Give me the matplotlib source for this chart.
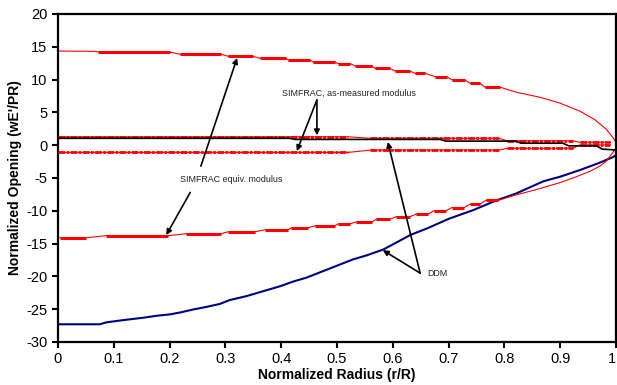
import matplotlib
matplotlib.use("Agg")
import matplotlib.pyplot as plt

plt.rcParams["font.family"] = ["Liberation Sans", "DejaVu Sans"]
plt.rcParams["axes.unicode_minus"] = False

# SIMFRAC, equivalent modulus - upper surface (staircase: start, end, level)
top_start = [0.072, 0.219, 0.305, 0.362, 0.412, 0.457, 0.502, 0.532, 0.568, 0.604, 0.640, 0.676, 0.706, 0.738, 0.765]
top_end   = [0.201, 0.292, 0.349, 0.409, 0.452, 0.496, 0.523, 0.563, 0.595, 0.631, 0.658, 0.697, 0.729, 0.756, 0.792]
top_level = [14.2, 13.85, 13.55, 13.25, 13.0, 12.65, 12.45, 12.1, 11.7, 11.3, 10.95, 10.45, 9.95, 9.45, 8.85]
top_lead_r = [0.0, 0.066]
top_lead_w = [14.35, 14.3]
top_tail_r = [0.82, 0.864, 0.90, 0.935, 0.962, 0.983, 0.995, 1.0]
top_tail_w = [8.1, 7.3, 6.4, 5.2, 3.9, 2.4, 1.1, 0.4]

# SIMFRAC, equivalent modulus - lower surface
bot_start = [0.003, 0.086, 0.230, 0.305, 0.371, 0.418, 0.460, 0.502, 0.534, 0.570, 0.606, 0.642, 0.674, 0.706, 0.738, 0.767]
bot_end   = [0.051, 0.197, 0.292, 0.353, 0.412, 0.448, 0.496, 0.523, 0.563, 0.595, 0.631, 0.663, 0.695, 0.728, 0.756, 0.789]
bot_level = [-14.1, -13.8, -13.5, -13.2, -12.9, -12.6, -12.3, -12.0, -11.7, -11.3, -10.9, -10.5, -10.0, -9.5, -9.0, -8.4]
bot_lead_r = [0.0]
bot_lead_w = [-14.1]
bot_tail_r = [0.82, 0.86, 0.90, 0.923, 0.953, 0.971, 0.983, 0.99, 0.996, 1.0]
bot_tail_w = [-7.6, -6.7, -5.7, -5.0, -4.0, -3.2, -2.4, -1.6, -0.9, -0.5]

# SIMFRAC, as-measured modulus
mid_up_start = [0.0, 0.56, 0.805, 0.935]
mid_up_end   = [0.52, 0.79, 0.923, 0.99]
mid_up_level = [1.28, 1.05, 0.67, 0.44]
mid_lo_start = [0.0, 0.56, 0.805, 0.935]
mid_lo_end   = [0.52, 0.79, 0.923, 0.99]
mid_lo_level = [-1.1, -0.75, -0.47, 0.03]

# DDM
ddm_top_r = [0.0, 0.415, 0.425, 0.685, 0.695, 0.82, 0.83, 0.905, 0.915, 0.965, 0.975, 0.998]
ddm_top_w = [1.05, 1.05, 0.88, 0.88, 0.62, 0.62, 0.3, 0.3, -0.1, -0.1, -0.6, -0.72]
ddm_bot_r = [0.0, 0.075, 0.087, 0.123, 0.153, 0.177, 0.200, 0.219, 0.242, 0.266, 0.290, 0.308,
             0.338, 0.362, 0.398, 0.421, 0.445, 0.466, 0.502, 0.529, 0.553, 0.583, 0.603, 0.631,
             0.661, 0.701, 0.744, 0.786, 0.820, 0.870, 0.900, 0.935, 0.970, 0.995, 1.0]
ddm_bot_w = [-27.3, -27.3, -27.0, -26.6, -26.3, -26.0, -25.8, -25.5, -25.05, -24.65, -24.2, -23.6,
             -23.0, -22.4, -21.5, -20.8, -20.2, -19.5, -18.3, -17.4, -16.8, -15.9, -15.0, -13.7,
             -12.7, -11.2, -9.9, -8.4, -7.4, -5.5, -4.8, -3.8, -2.7, -1.8, -1.5]

x_ticks = [0, 0.1, 0.2, 0.3, 0.4, 0.5, 0.6, 0.7, 0.8, 0.9, 1]
x_labels = ["0", "0.1", "0.2", "0.3", "0.4", "0.5", "0.6", "0.7", "0.8", "0.9", "1"]
y_ticks = [-30, -25, -20, -15, -10, -5, 0, 5, 10, 15, 20]

RED = "#ff0000"
NAVY = "#000080"


def staircase(ax, starts, ends, levels, lead_r, lead_w, tail_r, tail_w, ls, lw):
    r = list(lead_r)
    w = list(lead_w)
    for s, e, lv in zip(starts, ends, levels):
        r += [s, e]
        w += [lv, lv]
    r += list(tail_r)
    w += list(tail_w)
    ax.plot(r, w, color=RED, lw=0.8, zorder=2)
    ax.hlines(levels, starts, ends, colors=RED, lw=lw, linestyles=ls, zorder=3)


fig = plt.figure(figsize=(6.17, 3.85), dpi=100)
ax = fig.add_axes([0.094, 0.1117, 0.9044, 0.852])

ax.plot(ddm_bot_r, ddm_bot_w, color=NAVY, lw=1.5, zorder=1)
staircase(ax, top_start, top_end, top_level, top_lead_r, top_lead_w, top_tail_r, top_tail_w, "solid", 2.2)
staircase(ax, bot_start, bot_end, bot_level, bot_lead_r, bot_lead_w, bot_tail_r, bot_tail_w, "solid", 2.2)
dashdot = (0, (2.4, 0.5, 1.0, 0.5))
staircase(ax, mid_up_start, mid_up_end, mid_up_level, [], [], [], [], dashdot, 2.0)
staircase(ax, mid_lo_start, mid_lo_end, mid_lo_level, [], [], [], [], dashdot, 2.0)
ax.plot(ddm_top_r, ddm_top_w, color="black", lw=1.2, zorder=4)

arrow = dict(arrowstyle="-|>", color="black", lw=1.2, mutation_scale=8, shrinkA=0, shrinkB=0)
txt = dict(fontsize=6.4, color="#222222", ha="center", va="center")

ax.text(0.521, 7.95, "SIMFRAC, as-measured modulus", **txt)
ax.annotate("", xy=(0.464, 1.5), xytext=(0.464, 6.9), arrowprops=arrow)
ax.annotate("", xy=(0.428, -0.9), xytext=(0.464, 6.9), arrowprops=arrow)

ax.text(0.31, -5.2, "SIMFRAC equiv. modulus", **txt)
ax.annotate("", xy=(0.321, 13.3), xytext=(0.256, -3.2), arrowprops=arrow)
ax.annotate("", xy=(0.194, -13.7), xytext=(0.237, -7.2), arrowprops=arrow)

ax.text(0.679, -19.5, "DDM", **txt)
ax.annotate("", xy=(0.582, -16.0), xytext=(0.649, -19.5), arrowprops=arrow)
ax.annotate("", xy=(0.591, 0.5), xytext=(0.649, -19.5), arrowprops=arrow)

ax.set_xlim(0, 1)
ax.set_ylim(-30, 20)
ax.set_xticks(x_ticks)
ax.set_xticklabels(x_labels)
ax.set_yticks(y_ticks)
ax.tick_params(direction="out", length=4, width=1.5, labelsize=10.5, colors="black")
# last label sits at the right edge of the figure; keep it inside
ax.get_xticklabels()[-1].set_horizontalalignment("right")
for sp in ax.spines.values():
    sp.set_linewidth(1.6)
    sp.set_color("black")

ax.set_xlabel("Normalized Radius (r/R)", fontsize=10, fontweight="bold", labelpad=1)
ax.set_ylabel("Normalized Opening (wE'/PR)", fontsize=10, fontweight="bold", labelpad=3)

fig.savefig("out.png", dpi=100)
